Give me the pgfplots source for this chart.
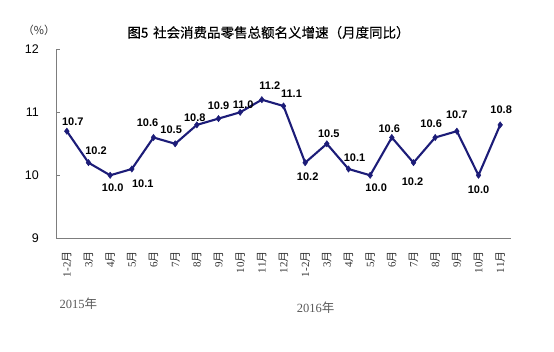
\documentclass[border=0pt]{standalone}
\usepackage{pgfplots}
\pgfplotsset{compat=1.18}
\usepackage{pgfplotstable}
\usepackage{fontspec}
\setmainfont{Liberation Sans}
\newfontfamily\cjk{Noto Sans CJK SC}
\newfontfamily\cjkb[FakeBold=0.4]{Noto Sans CJK SC}
\newfontfamily\lserif{Liberation Serif}
\definecolor{navy}{RGB}{28,28,120}
\definecolor{axgray}{RGB}{125,125,125}
\newcommand\mo[1]{{\lserif #1}{\cjk 月}}

\pgfplotstableread{
x y dx dy
0 10.7 6 9
1 10.2 7.5 11.6
2 10.0 2.5 -12.4
3 10.1 11 -15
4 10.6 -6 14.6
5 10.5 -4 14
6 10.8 -2 7
7 10.9 0 12.7
8 11.0 3 8
9 11.2 8 14
10 11.1 8 12
11 10.2 2.5 -14
12 10.5 2 10
13 10.1 6 11.7
14 10.0 6 -12.7
15 10.6 -2.5 8.3
16 10.2 -1 -19
17 10.6 -4 14
18 10.7 0 16.7
19 10.0 0 -14.3
20 10.8 1 15
}\datatable

\begin{document}
\begin{tikzpicture}[x=1pt,y=1pt]
\useasboundingbox (0,0) rectangle (554,352);
\begin{axis}[
  at={(56pt,113.7pt)}, anchor=south west, scale only axis,
  width=455pt, height=189pt,
  xmin=-0.5, xmax=20.5, ymin=9, ymax=12,
  clip=false,
  /pgf/number format/assume math mode=true,
  axis x line*=bottom, axis y line*=left,
  axis line style={-, axgray, line width=0.8pt},
  xtick={0,...,20},
  xticklabels={\mo{1-2},\mo{3},\mo{4},\mo{5},\mo{6},\mo{7},\mo{8},\mo{9},\mo{10},\mo{11},\mo{12},\mo{1-2},\mo{3},\mo{4},\mo{5},\mo{6},\mo{7},\mo{8},\mo{9},\mo{10},\mo{11}},
  x tick style={draw=none},
  minor xtick={-0.5,0.5,...,20.5},
  minor x tick style={axgray, line width=0.6pt},
  minor tick length=4pt,
  major tick length=4pt,
  ytick={9,10,11,12},
  y tick style={axgray, line width=0.6pt},
  tick align=inside,
  yticklabel style={font=\fontsize{12.5}{14}\selectfont, inner sep=0pt, anchor=east},
  yticklabel shift=17pt,
  xticklabel style={rotate=90, anchor=east, inner sep=0pt, font=\fontsize{11}{12}\selectfont, text=black!80},
  xticklabel shift=13pt,
]
\addplot[navy, line width=2.1pt, mark=diamond*, mark size=3.2pt,
  mark options={solid, line width=0.4pt, fill=navy},
  point meta=y,
  nodes near coords={\pgfmathprintnumber[fixed,fixed zerofill,precision=1,assume math mode=true]{\pgfplotspointmeta}},
  visualization depends on={\thisrow{dx} \as \dx},
  visualization depends on={\thisrow{dy} \as \dy},
  nodes near coords style={anchor=center, inner sep=0pt, xshift={\dx*1pt}, yshift={\dy*1pt}, font=\bfseries\fontsize{11}{12}\selectfont, text=black},
] table[x=x,y=y] {\datatable};
\end{axis}
\node[anchor=center, font=\cjkb\fontsize{13.5}{15}\selectfont] at (268.5,319.5) {图5\hspace{0.35em}社会消费品零售总额名义增速（月度同比）};
\node[anchor=center, font=\cjk\fontsize{11}{12}\selectfont, text=black!80] at (39,322) {（\%）};
\node[anchor=west, inner sep=0pt, font=\fontsize{12.5}{14}\selectfont, text=black!65] at (59.3,48) {{\lserif 2015}{\cjk 年}};
\node[anchor=west, inner sep=0pt, font=\fontsize{12.5}{14}\selectfont, text=black!65] at (296.7,44.5) {{\lserif 2016}{\cjk 年}};
\end{tikzpicture}
\end{document}
